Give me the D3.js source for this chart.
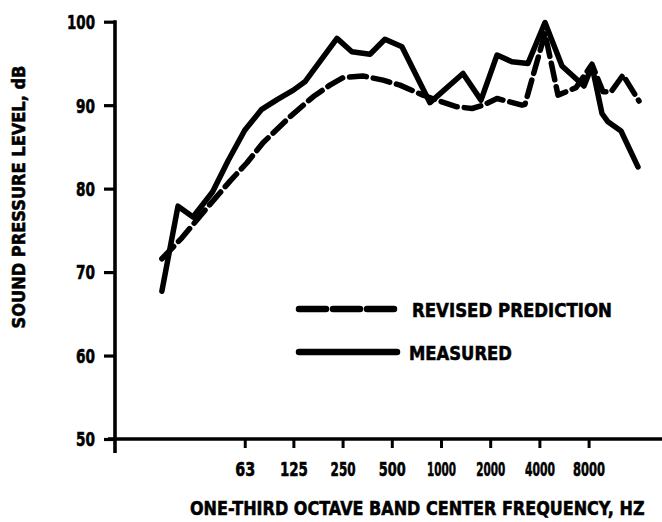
<!DOCTYPE html>
<html>
<head>
<meta charset="utf-8">
<script src="https://cdn.jsdelivr.net/npm/d3@7"></script>
<style>
  html, body { margin: 0; padding: 0; background: #fff; }
  svg text { font-family: "DejaVu Sans", "Liberation Sans", sans-serif; font-weight: bold; fill: #000; stroke: #000; stroke-width: 0.6px; }
</style>
</head>
<body>
<svg id="chart" width="662" height="522"></svg>
<script>
// One-third octave band spectrum: measured vs. revised prediction
const measuredHz = [19.6, 24.6, 30.4, 40, 50, 63, 80, 100, 125, 147, 231, 285, 368, 454, 577, 856,
                    1363, 1757, 2201, 2719, 3406, 4328, 5499, 7499, 8392, 9660, 10510, 12630, 16040];
const measuredDb = [67.7, 77.9, 76.6, 79.6, 83.4, 87.0, 89.5, 90.7, 91.8, 92.8, 98.0, 96.4, 96.1, 97.9, 97.0, 90.3,
                    93.8, 90.6, 96.0, 95.2, 95.0, 99.9, 94.7, 92.3, 94.7, 89.0, 88.0, 86.9, 82.6];

const predictedHz = [19.6, 26.0, 37.0, 51.2, 65.0, 81.5, 119, 165, 209, 252, 333, 442, 561, 776, 945,
                     1253, 1548, 1808, 2201, 3130, 3265, 4328, 5199, 6700, 8392, 9800, 10970, 12990, 16270];
const predictedDb = [71.6, 74.1, 77.7, 80.9, 83.1, 85.5, 88.6, 91.0, 92.4, 93.3, 93.5, 93.0, 92.4, 91.2, 90.6,
                     89.8, 89.6, 90.0, 90.8, 90.0, 90.1, 98.6, 91.2, 92.1, 94.9, 91.6, 91.6, 93.6, 90.5];

const freqTicks = [63, 125, 250, 500, 1000, 2000, 4000, 8000];
const freqTickWidths = [20, 28, 25, 27, 29, 29, 30, 32];
const levelTicks = [50, 60, 70, 80, 90, 100];

const seriesNames = ["REVISED PREDICTION", "MEASURED"];

const svg = d3.select("#chart");

const axisX = 115;       // position of the vertical axis
const x = d3.scaleLog().domain([20, 16000]).range([163.3, 637.8]);
const y = d3.scaleLinear().domain([50, 100]).range([439, 21.7]);

const ink = "#000";

// Squeeze a text horizontally so that it spans the given width (condensed lettering).
function squeeze(sel, width) {
  sel.each(function (d, i) {
    const node = this;
    const w = typeof width === "function" ? width(d, i) : width;
    const natural = node.getComputedTextLength();
    const k = w / natural;
    const tx = +node.getAttribute("x") || 0;
    const ty = +node.getAttribute("y") || 0;
    const base = node.getAttribute("data-base") || "";
    node.setAttribute("x", 0);
    node.setAttribute("y", 0);
    node.setAttribute("transform", `${base} translate(${tx},${ty}) scale(${k},1)`);
  });
}

// ---- vertical axis ----
const yAxis = d3.axisLeft(y)
  .tickValues(levelTicks)
  .tickSize(11)
  .tickPadding(9)
  .tickFormat(d3.format("d"));

const gy = svg.append("g").attr("transform", `translate(${axisX},0)`).call(yAxis);
gy.select(".domain").remove();
gy.selectAll(".tick line").attr("stroke", ink).attr("stroke-width", 3.2);
gy.selectAll(".tick text")
  .attr("font-size", 19)
  .attr("dy", "0.36em")
  .call(squeeze, d => d >= 100 ? 28 : 19);

svg.append("line")
  .attr("x1", axisX).attr("x2", axisX)
  .attr("y1", y(100) - 1.5).attr("y2", y(50) + 14)
  .attr("stroke", ink).attr("stroke-width", 3.6);

// ---- horizontal axis ----
const xAxis = d3.axisBottom(x)
  .tickValues(freqTicks)
  .tickSize(9)
  .tickPadding(14)
  .tickFormat(d => String(d));

const gx = svg.append("g").attr("transform", `translate(0,${y(50)})`).call(xAxis);
gx.select(".domain").remove();
gx.selectAll(".tick line").attr("stroke", ink).attr("stroke-width", 3);
gx.selectAll(".tick text")
  .attr("font-size", 20)
  .attr("dy", "0.71em")
  .call(squeeze, (d, i) => freqTickWidths[i]);

svg.append("line")
  .attr("x1", axisX - 7).attr("x2", 662)
  .attr("y1", y(50)).attr("y2", y(50))
  .attr("stroke", ink).attr("stroke-width", 3.6);

// ---- axis titles ----
svg.append("text")
  .attr("x", 190).attr("y", 515)
  .attr("font-size", 20)
  .text("ONE-THIRD OCTAVE BAND CENTER FREQUENCY, HZ")
  .call(squeeze, 455);

svg.append("text")
  .attr("data-base", "translate(25,197) rotate(-90)")
  .attr("text-anchor", "middle")
  .attr("font-size", 18)
  .text("SOUND PRESSURE LEVEL, dB")
  .call(squeeze, 263);

// ---- curves ----
const line = d3.line()
  .x(d => x(d[0]))
  .y(d => y(d[1]));

const predicted = predictedHz.map((f, i) => [f, predictedDb[i]]);
const measured = measuredHz.map((f, i) => [f, measuredDb[i]]);

svg.append("path")
  .datum(predicted)
  .attr("d", line)
  .attr("fill", "none")
  .attr("stroke", ink)
  .attr("stroke-width", 5.5)
  .attr("stroke-linecap", "round")
  .attr("stroke-linejoin", "round")
  .attr("stroke-dasharray", "17,7");

svg.append("path")
  .datum(measured)
  .attr("d", line)
  .attr("fill", "none")
  .attr("stroke", ink)
  .attr("stroke-width", 5.5)
  .attr("stroke-linecap", "round")
  .attr("stroke-linejoin", "round");

// ---- legend ----
const legend = svg.append("g");
const legendRows = [
  { name: seriesNames[0], y: 309, dash: "27,7", textY: 317, width: 200, textX: 412 },
  { name: seriesNames[1], y: 352, dash: null, textY: 360, width: 103, textX: 409 }
];
legendRows.forEach(r => {
  legend.append("line")
    .attr("x1", 299).attr("x2", 397)
    .attr("y1", r.y).attr("y2", r.y)
    .attr("stroke", ink)
    .attr("stroke-width", 6.5)
    .attr("stroke-linecap", "round")
    .attr("stroke-dasharray", r.dash);
  legend.append("text")
    .attr("x", r.textX).attr("y", r.textY)
    .attr("font-size", 20)
    .text(r.name)
    .call(squeeze, r.width);
});
</script>
</body>
</html>
